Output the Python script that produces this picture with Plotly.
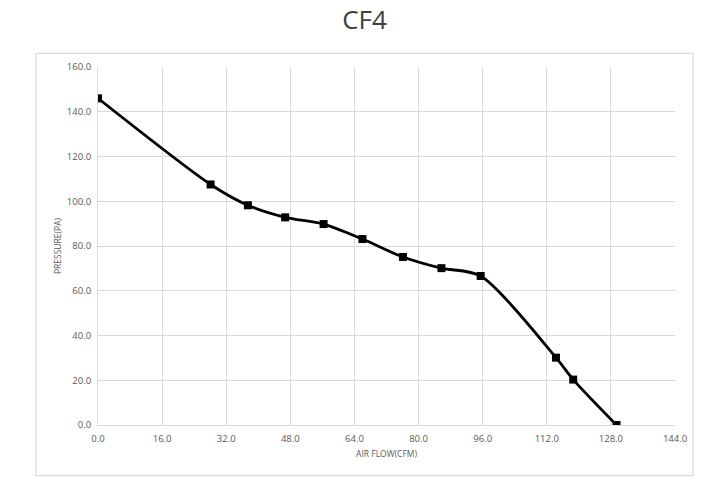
import plotly.graph_objects as go

air_flow = [0.0, 28.1, 37.4, 46.7, 56.3, 66.0, 76.1, 85.7, 95.5, 114.3, 118.6, 129.4]
pressure = [146.0, 107.5, 98.2, 92.8, 89.8, 83.1, 75.1, 70.1, 66.6, 30.1, 20.3, 0.0]

x_ticks = [0, 16, 32, 48, 64, 80, 96, 112, 128, 144]
y_ticks = [0, 20, 40, 60, 80, 100, 120, 140, 160]

FONT = "Open Sans"
GRID = "#d9d9d9"
TXT = "#595959"

fig = go.Figure()
fig.add_trace(go.Scatter(
    x=air_flow, y=pressure, mode="lines+markers",
    line=dict(color="black", width=2.8, shape="spline", smoothing=0.8),
    marker=dict(symbol="square", size=8, color="black"),
    showlegend=False,
))

W, H = 728, 493
fig.update_layout(
    width=W, height=H,
    margin=dict(l=98, r=53, t=67, b=68),
    paper_bgcolor="white", plot_bgcolor="white",
    title=dict(text="CF4", x=364.5 / W, xanchor="center", y=1 - 19.5 / H, yanchor="middle",
               font=dict(family=FONT, size=26, color="#404040")),
    xaxis=dict(range=[0, 144], tickvals=x_ticks, ticktext=[f"{v:.1f}" for v in x_ticks],
               showgrid=True, gridcolor=GRID, gridwidth=1, zeroline=False,
               showline=True, linecolor=GRID, linewidth=1,
               ticks="outside", ticklen=5, tickcolor="rgba(0,0,0,0)",
               tickfont=dict(family=FONT, size=9.5, color=TXT),
               title=dict(text="AIR FLOW(CFM)", standoff=6,
                          font=dict(family=FONT, size=8.5, color=TXT))),
    yaxis=dict(range=[0, 160], tickvals=y_ticks, ticktext=[f"{v:.1f}" for v in y_ticks],
               showgrid=True, gridcolor=GRID, gridwidth=1, zeroline=False,
               showline=True, linecolor=GRID, linewidth=1,
               ticks="outside", ticklen=4, tickcolor="rgba(0,0,0,0)",
               tickfont=dict(family=FONT, size=9.5, color=TXT),
               title=dict(text="PRESSURE(PA)", standoff=3,
                          font=dict(family=FONT, size=8.5, color=TXT))),
    shapes=[dict(type="rect", xref="paper", yref="paper",
                 x0=(36 - 98) / 577, x1=(693 - 98) / 577,
                 y0=(425.3 - 476) / 358.6, y1=(425.3 - 53) / 358.6,
                 line=dict(color=GRID, width=1.2), layer="below")],
)

fig.write_html("out.html", config={"displayModeBar": False},
               post_script="document.body.style.margin='0';")
